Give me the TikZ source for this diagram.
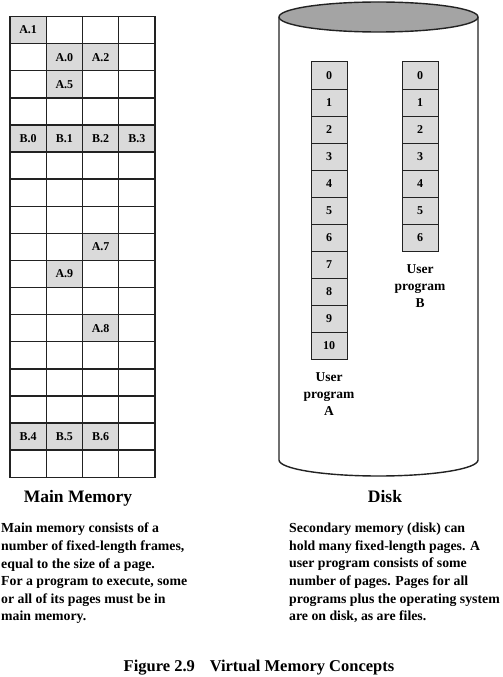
\documentclass[tikz,border=0pt]{standalone}
\usepackage{fontspec}
\setmainfont{Liberation Serif}
\definecolor{cellgray}{HTML}{DADADA}
\definecolor{diskgray}{HTML}{A4A4A4}
\definecolor{linegray}{HTML}{222222}
\tikzset{
  cell/.style={minimum width=36.25pt, minimum height=27.1pt,
    anchor=north west, inner sep=0pt, outer sep=0pt, font=\bfseries\fontsize{12}{12}\selectfont},
  shaded/.style={cell, fill=cellgray},
  gridline/.style={draw=linegray, line width=1.4pt, line cap=rect},
  dcell/.style={draw=linegray, line width=1pt, fill=cellgray, minimum width=36pt, minimum height=27pt,
    anchor=north west, inner sep=0pt, outer sep=0pt, font=\bfseries\fontsize{12}{12}\selectfont},
  lbl/.style={align=center, inner sep=0pt, font=\bfseries\fontsize{13.5}{17}\selectfont},
  head/.style={anchor=base, inner sep=0pt, font=\bfseries\fontsize{17.5}{20}\selectfont},
  para/.style={anchor=north west, align=left, inner sep=0pt, font=\bfseries\fontsize{13.8}{17.6}\selectfont},
  disk/.style={draw=linegray, line width=1.4pt}
}
\begin{document}
\begin{tikzpicture}[x=1pt,y=-1pt]
\useasboundingbox (0,0) rectangle (503,677);
\fill[white] (0,0) rectangle (503,677);
% main memory: shaded frames
\foreach \r/\c/\t in {0/0/A.1, 1/1/A.0, 1/2/A.2, 2/1/A.5, 4/0/B.0, 4/1/B.1, 4/2/B.2, 4/3/B.3,
  8/2/A.7, 9/1/A.9, 11/2/A.8, 15/0/B.4, 15/1/B.5, 15/2/B.6}{
  \node[shaded] (p-\r-\c) at ({10+36.25*\c},{16.5+27.1*\r}) {\t};
}
% main memory: grid lines
\foreach \c in {0,...,4}{
  \draw[gridline] ({10+36.25*\c},16.5) -- ({10+36.25*\c},{16.5+27.1*17});
}
\foreach \r in {0,...,17}{
  \draw[gridline] (10,{16.5+27.1*\r}) -- (155,{16.5+27.1*\r});
}
% disk
\draw[disk, fill=white] (279,17) -- (279,460) arc[start angle=180, end angle=0, x radius=99.5, y radius=16] -- (478,17);
\draw[disk, fill=diskgray] (378.5,17) ellipse[x radius=99.5, y radius=15];
\foreach \i in {0,...,10}{
  \node[dcell] (a\i) at (311,{62+27*\i}) {\i};
}
\foreach \i in {0,...,6}{
  \node[dcell] (b\i) at (402,{62+27*\i}) {\i};
}
\node[lbl] (ua) at (329,394) {User\\program\\A};
\node[lbl] (ub) at (420,286) {User\\program\\B};
\node[head] (mm) at (78,502) {Main Memory};
\node[head] (dk) at (385,502) {Disk};
\node[para] (pl) at (1,523) {Main memory consists of a\\number of fixed-length frames,\\equal to the size of a page.\\For a program to execute, some\\or all of its pages must be in\\main memory.};
\node[para] (pr) at (289,523) {Secondary memory (disk) can\\hold many fixed-length pages. A\\user program consists of some\\number of pages. Pages for all\\programs plus the operating system\\are on disk, as are files.};
\node[head, font=\bfseries\fontsize{16.5}{20}\selectfont] (cap) at (259,671) {Figure 2.9\hspace{0.9em}Virtual Memory Concepts};
\end{tikzpicture}
\end{document}
